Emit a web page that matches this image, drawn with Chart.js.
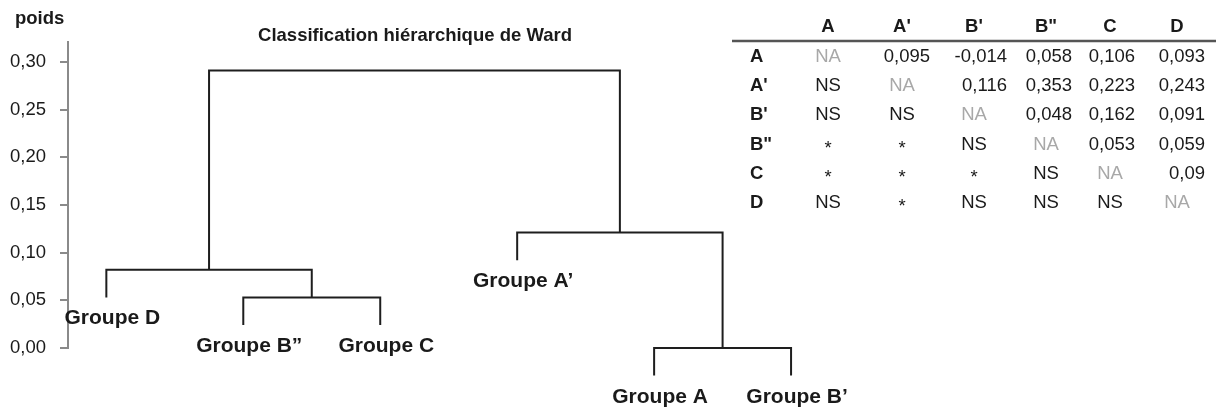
<!DOCTYPE html>
<html>
<head>
<meta charset="utf-8">
<script src="https://cdn.jsdelivr.net/npm/chart.js@4.4.1/dist/chart.umd.min.js"></script>
<style>
  body { margin: 0; background: #fff; }
  canvas { display: block; }
</style>
</head>
<body>
<canvas id="ward" width="1216" height="408"></canvas>
<script>
// Dendrogram data (linkage style: ids 0-5 are leaves, 6+ are earlier merges)
const leafNames = ['Groupe D', 'Groupe B\u201d', 'Groupe C', 'Groupe A\u2019', 'Groupe A', 'Groupe B\u2019'];
const mergeLeft = [1, 4, 0, 3, 8];
const mergeRight = [2, 5, 6, 7, 9];
const mergeHeight = [0.053, 0.000, 0.082, 0.121, 0.291];
const hang = 0.029;
const yTicks = [0, 0.05, 0.10, 0.15, 0.20, 0.25, 0.30];

// Correlation / significance table
const tableCols = ['A', "A'", "B'", 'B"', 'C', 'D'];
const tableRows = ['A', "A'", "B'", 'B"', 'C', 'D'];
const tableCells = [
  ['NA', '0,095', '-0,014', '0,058', '0,106', '0,093'],
  ['NS', 'NA', '0,116', '0,353', '0,223', '0,243'],
  ['NS', 'NS', 'NA', '0,048', '0,162', '0,091'],
  ['*', '*', 'NS', 'NA', '0,053', '0,059'],
  ['*', '*', '*', 'NS', 'NA', '0,09'],
  ['NS', '*', 'NS', 'NS', 'NS', 'NA']
];

const FONT = '"Liberation Sans", Arial, sans-serif';

// positions of each node along x, and bottom of each leaf stub
const nodeX = leafNames.map((n, i) => i);
const leafBottom = [];
mergeLeft.forEach((l, k) => {
  const r = mergeRight[k];
  nodeX.push((nodeX[l] + nodeX[r]) / 2);
  if (l < leafNames.length) leafBottom[l] = mergeHeight[k] - hang;
  if (r < leafNames.length) leafBottom[r] = mergeHeight[k] - hang;
});
const nodeY = (id) => id < leafNames.length ? leafBottom[id] : mergeHeight[id - leafNames.length];

const datasets = mergeLeft.map((l, k) => {
  const r = mergeRight[k], h = mergeHeight[k];
  return {
    data: [
      { x: nodeX[l], y: nodeY(l) },
      { x: nodeX[l], y: h },
      { x: nodeX[r], y: h },
      { x: nodeX[r], y: nodeY(r) }
    ],
    showLine: true,
    borderColor: '#1e1e1e',
    borderWidth: 2,
    pointRadius: 0,
    tension: 0,
    borderJoinStyle: 'miter'
  };
});

const extras = {
  id: 'extras',
  afterDatasetsDraw(chart) {
    const ctx = chart.ctx;
    const xs = chart.scales.x, ys = chart.scales.y;
    ctx.save();

    // y axis line, from 0 to the top
    ctx.strokeStyle = '#8a8a8a';
    ctx.lineWidth = 2;
    ctx.beginPath();
    ctx.moveTo(chart.chartArea.left, ys.getPixelForValue(0) + 1);
    ctx.lineTo(chart.chartArea.left, ys.getPixelForValue(ys.max));
    ctx.stroke();

    ctx.fillStyle = '#1a1a1a';
    ctx.font = 'bold 18.5px ' + FONT;
    ctx.textBaseline = 'alphabetic';
    ctx.textAlign = 'left';
    ctx.fillText('poids', 15, 24);
    ctx.textAlign = 'center';
    ctx.fillText('Classification hi\u00e9rarchique de Ward', 415, 41);

    // leaf labels
    ctx.font = 'bold 21px ' + FONT;
    leafNames.forEach((name, i) => {
      ctx.fillText(name, xs.getPixelForValue(nodeX[i]) + 6, ys.getPixelForValue(leafBottom[i]) + 27);
    });

    // table
    const colCenter = [828, 902, 974, 1046, 1110, 1177];
    const colRight = [856, 930, 1007, 1072, 1135, 1205];
    const rowY = (i) => 62 + i * 29.2;
    ctx.font = 'bold 18.5px ' + FONT;
    tableCols.forEach((c, j) => ctx.fillText(c, colCenter[j], 32));
    ctx.textAlign = 'left';
    tableRows.forEach((r, i) => ctx.fillText(r, 750, rowY(i)));

    ctx.strokeStyle = '#555';
    ctx.lineWidth = 2.5;
    ctx.beginPath();
    ctx.moveTo(732, 41);
    ctx.lineTo(1216, 41);
    ctx.stroke();

    ctx.font = '18.5px ' + FONT;
    tableCells.forEach((row, i) => {
      row.forEach((cell, j) => {
        ctx.fillStyle = cell === 'NA' ? '#a8a8a8' : '#1a1a1a';
        if (/\d/.test(cell)) {
          ctx.textAlign = 'right';
          ctx.fillText(cell, colRight[j], rowY(i));
        } else {
          ctx.textAlign = 'center';
          ctx.fillText(cell, colCenter[j], rowY(i) + (cell === '*' ? 4 : 0));
        }
      });
    });
    ctx.restore();
  }
};

new Chart(document.getElementById('ward'), {
  type: 'scatter',
  data: { datasets: datasets },
  options: {
    responsive: false,
    animation: false,
    devicePixelRatio: 1,
    layout: { padding: { top: 41, right: 10, bottom: 0, left: 0 } },
    plugins: { legend: { display: false }, tooltip: { enabled: false } },
    scales: {
      x: { type: 'linear', min: -0.28, max: 8.03, display: false },
      y: {
        type: 'linear',
        min: -0.063,
        max: 0.322,
        afterBuildTicks: (s) => { s.ticks = yTicks.map(v => ({ value: v })); },
        afterFit: (s) => {
          s.width = 68;
          s.paddingTop = 0;
          s.paddingBottom = 0;
        },
        ticks: {
          padding: 14,
          color: '#1a1a1a',
          font: { family: FONT, size: 18.5 },
          callback: (v) => v.toFixed(2).replace('.', ',')
        },
        grid: { drawOnChartArea: false, drawTicks: true, tickLength: 8, color: '#8a8a8a', lineWidth: 2 },
        border: { display: false }
      }
    }
  },
  plugins: [extras]
});
</script>
</body>
</html>
